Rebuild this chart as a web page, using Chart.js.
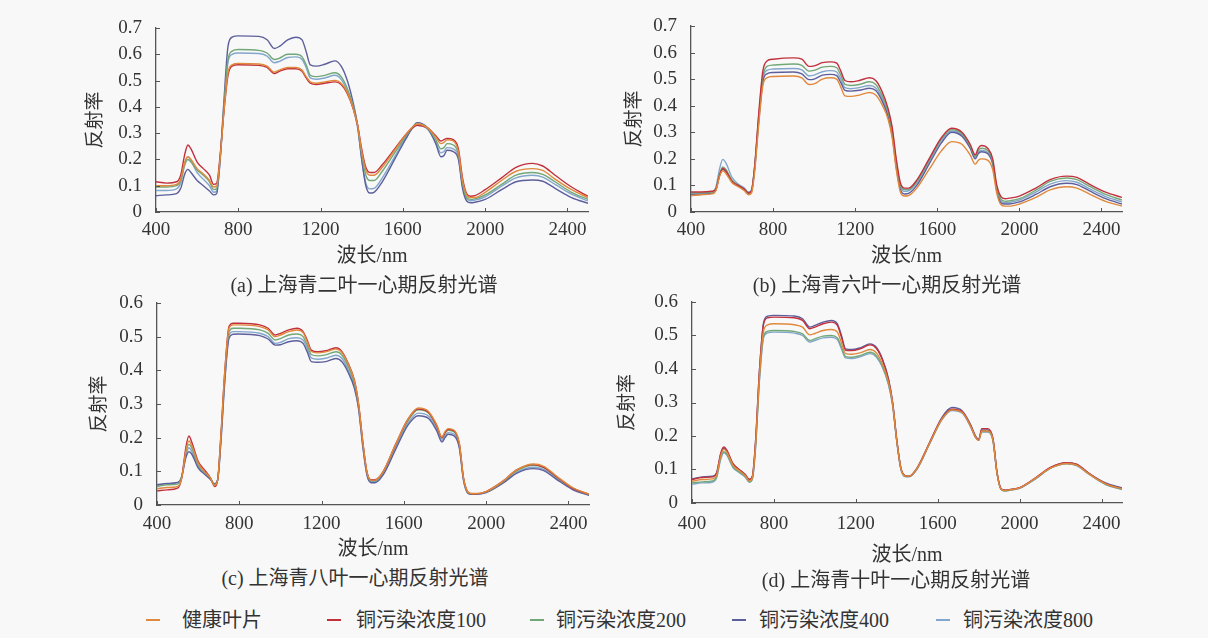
<!DOCTYPE html>
<html><head><meta charset="utf-8">
<script src="https://cdn.jsdelivr.net/npm/chart.js@4.4.1/dist/chart.umd.min.js"></script>
<style>
html,body{margin:0;padding:0;background:#f8f8f8;}
body{width:1208px;height:638px;position:relative;overflow:hidden;font-family:"Liberation Serif","Noto Sans CJK SC",serif;color:#333;}
canvas{position:absolute;}
.cap{position:absolute;font-size:20px;line-height:24px;height:24px;white-space:nowrap;transform:translateX(-50%);}
#legend{position:absolute;left:0;top:608px;width:1208px;height:24px;}
.li{position:absolute;top:0;height:24px;line-height:24px;font-size:20px;white-space:nowrap;}
.mk{position:absolute;top:11px;width:14px;height:2px;}
</style></head><body>
<canvas id="ca" width="568" height="269" style="left:80px;top:0px"></canvas>
<canvas id="cb" width="534" height="269" style="left:620px;top:0px"></canvas>
<canvas id="cc" width="549" height="282" style="left:80px;top:280px"></canvas>
<canvas id="cd" width="568" height="288" style="left:612px;top:280px"></canvas>
<div id="captions"></div>
<div id="legend"></div>
<script>
// ---------- data ----------
const WAVELENGTH = [400,450,500,520,540,555,570,600,630,660,680,695,710,730,750,770,800,900,940,975,1000,1040,1080,1110,1130,1150,1180,1220,1270,1300,1330,1360,1380,1400,1420,1440,1460,1500,1560,1620,1670,1720,1760,1785,1800,1815,1845,1870,1890,1910,1930,1950,2000,2080,2150,2230,2280,2340,2420,2500];
const X_TICKS = [400,800,1200,1600,2000,2400];
const Y_TICKS_AB = [0,0.1,0.2,0.3,0.4,0.5,0.6,0.7];
const Y_TICKS_CD = [0,0.1,0.2,0.3,0.4,0.5,0.6];
const SERIES_NAMES = ['健康叶片','铜污染浓度100','铜污染浓度200','铜污染浓度400','铜污染浓度800'];
const CAPTIONS = ['(a) 上海青二叶一心期反射光谱','(b) 上海青六叶一心期反射光谱','(c) 上海青八叶一心期反射光谱','(d) 上海青十叶一心期反射光谱'];

// (a) 二叶一心期
const A_HEALTHY = [0.10,0.10,0.105,0.125,0.19,0.21,0.2,0.165,0.145,0.12,0.095,0.1,0.19,0.38,0.53,0.56,0.565,0.563,0.555,0.532,0.54,0.55,0.55,0.54,0.515,0.495,0.49,0.495,0.5,0.49,0.455,0.39,0.33,0.23,0.16,0.14,0.14,0.17,0.235,0.30,0.335,0.32,0.285,0.26,0.265,0.275,0.27,0.23,0.12,0.065,0.055,0.055,0.075,0.12,0.155,0.165,0.158,0.125,0.085,0.055];
const A_CU100 = [0.115,0.11,0.115,0.14,0.22,0.255,0.24,0.19,0.165,0.14,0.105,0.11,0.2,0.38,0.52,0.555,0.56,0.558,0.55,0.527,0.535,0.545,0.545,0.535,0.51,0.49,0.485,0.49,0.495,0.485,0.45,0.39,0.33,0.24,0.17,0.15,0.15,0.18,0.24,0.30,0.33,0.32,0.29,0.27,0.275,0.28,0.275,0.24,0.13,0.07,0.06,0.062,0.085,0.13,0.17,0.185,0.175,0.14,0.095,0.06];
const A_CU200 = [0.095,0.095,0.1,0.12,0.18,0.2,0.19,0.16,0.14,0.115,0.085,0.09,0.19,0.4,0.58,0.612,0.618,0.615,0.605,0.58,0.585,0.6,0.6,0.59,0.56,0.52,0.515,0.52,0.53,0.515,0.47,0.4,0.33,0.22,0.14,0.12,0.12,0.155,0.225,0.295,0.335,0.32,0.275,0.24,0.245,0.26,0.255,0.22,0.11,0.055,0.048,0.05,0.065,0.105,0.14,0.15,0.143,0.115,0.075,0.048];
const A_CU400 = [0.062,0.065,0.07,0.09,0.145,0.162,0.15,0.12,0.1,0.08,0.065,0.07,0.18,0.42,0.63,0.665,0.67,0.668,0.655,0.622,0.63,0.655,0.665,0.655,0.61,0.56,0.555,0.562,0.575,0.555,0.5,0.41,0.33,0.2,0.1,0.072,0.075,0.115,0.2,0.285,0.34,0.32,0.26,0.21,0.215,0.235,0.23,0.2,0.09,0.042,0.035,0.037,0.048,0.085,0.115,0.122,0.117,0.09,0.055,0.033];
const A_CU800 = [0.082,0.082,0.088,0.11,0.185,0.21,0.195,0.15,0.125,0.1,0.075,0.08,0.18,0.39,0.57,0.6,0.605,0.603,0.593,0.568,0.573,0.588,0.59,0.58,0.55,0.51,0.505,0.51,0.52,0.505,0.46,0.39,0.32,0.2,0.11,0.088,0.09,0.13,0.21,0.29,0.33,0.315,0.265,0.225,0.23,0.245,0.24,0.21,0.1,0.05,0.043,0.045,0.058,0.098,0.13,0.14,0.133,0.105,0.068,0.042];

// (b) 六叶一心期
const B_HEALTHY = [0.062,0.065,0.068,0.078,0.135,0.155,0.145,0.11,0.095,0.08,0.065,0.072,0.15,0.33,0.475,0.505,0.51,0.512,0.505,0.48,0.482,0.5,0.505,0.5,0.47,0.437,0.435,0.44,0.45,0.44,0.405,0.35,0.28,0.16,0.075,0.06,0.062,0.09,0.16,0.23,0.265,0.255,0.215,0.18,0.195,0.2,0.195,0.16,0.07,0.028,0.022,0.022,0.03,0.055,0.083,0.095,0.09,0.068,0.04,0.022];
const B_CU100 = [0.075,0.075,0.078,0.085,0.14,0.165,0.155,0.115,0.1,0.085,0.072,0.08,0.17,0.37,0.53,0.568,0.575,0.58,0.575,0.548,0.55,0.562,0.565,0.56,0.53,0.495,0.49,0.495,0.505,0.495,0.455,0.39,0.32,0.2,0.11,0.09,0.09,0.12,0.2,0.28,0.315,0.3,0.255,0.215,0.24,0.25,0.24,0.2,0.1,0.058,0.05,0.052,0.06,0.09,0.122,0.135,0.13,0.105,0.075,0.055];
const B_CU200 = [0.072,0.072,0.075,0.085,0.145,0.17,0.16,0.12,0.1,0.085,0.072,0.08,0.17,0.36,0.51,0.548,0.553,0.557,0.552,0.53,0.533,0.545,0.548,0.543,0.515,0.48,0.476,0.48,0.49,0.48,0.44,0.38,0.31,0.19,0.1,0.085,0.085,0.115,0.195,0.275,0.31,0.295,0.25,0.21,0.232,0.24,0.232,0.19,0.09,0.048,0.04,0.042,0.05,0.082,0.115,0.128,0.122,0.097,0.066,0.045];
const B_CU400 = [0.065,0.067,0.07,0.08,0.14,0.16,0.152,0.115,0.098,0.085,0.07,0.078,0.16,0.34,0.49,0.52,0.525,0.527,0.52,0.498,0.5,0.515,0.518,0.513,0.487,0.458,0.455,0.458,0.466,0.457,0.42,0.36,0.29,0.17,0.085,0.068,0.07,0.1,0.18,0.26,0.3,0.285,0.24,0.2,0.22,0.227,0.22,0.18,0.08,0.035,0.03,0.03,0.038,0.066,0.095,0.108,0.103,0.08,0.05,0.03];
const B_CU800 = [0.07,0.07,0.075,0.09,0.165,0.198,0.185,0.13,0.105,0.09,0.075,0.085,0.17,0.35,0.5,0.533,0.538,0.54,0.535,0.512,0.515,0.528,0.532,0.527,0.5,0.468,0.464,0.468,0.476,0.467,0.43,0.37,0.3,0.18,0.095,0.078,0.08,0.11,0.19,0.27,0.305,0.29,0.245,0.205,0.225,0.232,0.225,0.185,0.085,0.042,0.035,0.036,0.045,0.075,0.105,0.118,0.112,0.088,0.058,0.038];

// (c) 八叶一心期
const C_HEALTHY = [0.048,0.052,0.055,0.08,0.16,0.19,0.175,0.125,0.1,0.08,0.058,0.075,0.2,0.4,0.525,0.535,0.535,0.53,0.52,0.5,0.505,0.515,0.52,0.512,0.485,0.456,0.452,0.455,0.463,0.452,0.418,0.368,0.3,0.19,0.1,0.074,0.074,0.1,0.18,0.255,0.288,0.278,0.238,0.202,0.218,0.227,0.222,0.182,0.08,0.04,0.034,0.034,0.04,0.07,0.105,0.122,0.115,0.087,0.052,0.032];
const C_CU100 = [0.042,0.045,0.05,0.08,0.17,0.205,0.185,0.13,0.105,0.08,0.055,0.075,0.2,0.4,0.53,0.54,0.54,0.535,0.525,0.505,0.51,0.52,0.525,0.515,0.49,0.46,0.455,0.458,0.467,0.455,0.42,0.37,0.3,0.19,0.1,0.075,0.075,0.1,0.18,0.255,0.285,0.275,0.235,0.2,0.215,0.225,0.22,0.18,0.08,0.04,0.033,0.033,0.04,0.07,0.105,0.12,0.112,0.085,0.05,0.032];
const C_CU200 = [0.055,0.06,0.062,0.085,0.155,0.18,0.168,0.12,0.098,0.08,0.06,0.075,0.19,0.39,0.515,0.525,0.525,0.52,0.51,0.49,0.494,0.505,0.508,0.5,0.475,0.447,0.443,0.446,0.455,0.445,0.41,0.36,0.295,0.185,0.098,0.072,0.072,0.098,0.178,0.25,0.283,0.273,0.233,0.198,0.213,0.222,0.217,0.178,0.078,0.038,0.033,0.033,0.039,0.068,0.102,0.118,0.111,0.084,0.05,0.031];
const C_CU400 = [0.06,0.064,0.067,0.083,0.14,0.158,0.15,0.11,0.092,0.076,0.063,0.075,0.18,0.37,0.495,0.507,0.508,0.503,0.493,0.475,0.476,0.485,0.488,0.48,0.455,0.426,0.424,0.426,0.435,0.425,0.393,0.346,0.285,0.175,0.09,0.066,0.066,0.09,0.165,0.237,0.265,0.257,0.22,0.187,0.2,0.21,0.205,0.168,0.073,0.036,0.032,0.032,0.037,0.064,0.095,0.108,0.102,0.077,0.046,0.029];
const C_CU800 = [0.058,0.063,0.066,0.085,0.145,0.17,0.158,0.115,0.095,0.078,0.062,0.075,0.19,0.38,0.505,0.515,0.515,0.51,0.5,0.48,0.483,0.494,0.497,0.49,0.465,0.437,0.433,0.436,0.445,0.435,0.4,0.352,0.29,0.18,0.095,0.07,0.07,0.095,0.172,0.243,0.273,0.264,0.226,0.192,0.207,0.215,0.21,0.172,0.075,0.037,0.032,0.032,0.038,0.066,0.098,0.112,0.106,0.08,0.048,0.03];

// (d) 十叶一心期
const D_HEALTHY = [0.065,0.07,0.072,0.082,0.14,0.16,0.152,0.113,0.097,0.082,0.066,0.076,0.17,0.385,0.515,0.532,0.535,0.532,0.525,0.502,0.506,0.515,0.518,0.51,0.478,0.446,0.444,0.448,0.458,0.448,0.415,0.36,0.295,0.186,0.103,0.081,0.08,0.104,0.178,0.25,0.278,0.27,0.23,0.196,0.187,0.215,0.215,0.188,0.088,0.041,0.037,0.039,0.045,0.075,0.104,0.118,0.113,0.086,0.057,0.042];
const D_CU100 = [0.07,0.076,0.078,0.088,0.148,0.167,0.158,0.118,0.1,0.085,0.07,0.08,0.18,0.4,0.535,0.553,0.555,0.553,0.545,0.52,0.525,0.535,0.54,0.53,0.495,0.456,0.455,0.46,0.472,0.462,0.427,0.367,0.298,0.188,0.104,0.082,0.08,0.105,0.18,0.252,0.28,0.272,0.232,0.197,0.188,0.222,0.222,0.192,0.09,0.042,0.038,0.04,0.046,0.076,0.106,0.12,0.115,0.088,0.058,0.043];
const D_CU200 = [0.06,0.063,0.066,0.078,0.135,0.153,0.146,0.108,0.093,0.079,0.063,0.073,0.165,0.375,0.5,0.513,0.515,0.512,0.505,0.485,0.49,0.498,0.5,0.493,0.465,0.437,0.435,0.44,0.45,0.44,0.408,0.355,0.292,0.185,0.102,0.08,0.079,0.103,0.177,0.25,0.278,0.27,0.23,0.196,0.188,0.213,0.213,0.186,0.087,0.04,0.036,0.038,0.045,0.074,0.104,0.118,0.112,0.086,0.056,0.041];
const D_CU400 = [0.072,0.078,0.08,0.09,0.145,0.163,0.155,0.115,0.1,0.085,0.07,0.08,0.18,0.4,0.54,0.558,0.56,0.558,0.55,0.525,0.53,0.54,0.545,0.535,0.5,0.46,0.458,0.463,0.475,0.465,0.43,0.37,0.3,0.19,0.105,0.082,0.08,0.105,0.18,0.255,0.285,0.275,0.235,0.2,0.19,0.218,0.218,0.19,0.09,0.042,0.038,0.04,0.045,0.075,0.105,0.12,0.115,0.088,0.06,0.045];
const D_CU800 = [0.056,0.06,0.062,0.075,0.13,0.15,0.143,0.106,0.091,0.077,0.062,0.072,0.16,0.37,0.495,0.508,0.51,0.507,0.5,0.48,0.485,0.493,0.495,0.488,0.46,0.433,0.431,0.436,0.446,0.436,0.405,0.352,0.29,0.184,0.101,0.079,0.078,0.102,0.176,0.248,0.276,0.268,0.228,0.195,0.187,0.212,0.212,0.185,0.086,0.04,0.036,0.038,0.044,0.073,0.103,0.117,0.111,0.085,0.055,0.04];

// ---------- style ----------
const COLORS = ['#e0893c','#c2303c','#72a877','#5d5f9c','#82a6cc'];
const FONT = '"Liberation Serif","Noto Sans CJK SC",serif';
const TXT = '#333333';
const AXIS = '#555555';
Chart.defaults.font.family = FONT;
Chart.defaults.color = TXT;

const inwardTicks = {
  id: 'inwardTicks',
  afterDraw(chart) {
    const ctx = chart.ctx, a = chart.chartArea;
    const xs = chart.scales.x, ys = chart.scales.y;
    ctx.save();
    ctx.strokeStyle = AXIS; ctx.lineWidth = 1;
    xs.ticks.forEach(t => { const p = Math.round(xs.getPixelForValue(t.value)) + 0.5; ctx.beginPath(); ctx.moveTo(p, a.bottom); ctx.lineTo(p, a.bottom - 4); ctx.stroke(); });
    ys.ticks.forEach(t => { const p = Math.round(ys.getPixelForValue(t.value)) + 0.5; ctx.beginPath(); ctx.moveTo(a.left, p); ctx.lineTo(a.left + 4, p); ctx.stroke(); });
    ctx.restore();
  }
};

function makeChart(id, series, yTicks, geo) {
  new Chart(document.getElementById(id), {
    type: 'line',
    data: {
      datasets: SERIES_NAMES.map((name, i) => ({
        label: name,
        data: WAVELENGTH.map((w, j) => ({x: w, y: series[i][j]})),
        borderColor: COLORS[i], borderWidth: 1.4, pointRadius: 0,
        cubicInterpolationMode: 'monotone', fill: false
      }))
    },
    options: {
      responsive: false, animation: false, events: [],
      layout: {padding: {top: geo.pt, right: geo.pr, left: 0, bottom: 0}},
      plugins: {legend: {display: false}, tooltip: {enabled: false}, title: {display: false}},
      scales: {
        x: {
          type: 'linear', min: 400, max: 2500,
          afterBuildTicks(s) { s.ticks = X_TICKS.map(v => ({value: v})); },
          afterFit(s) { s.height = geo.xh; },
          grid: {display: false},
          border: {display: true, color: AXIS, width: 1.3},
          ticks: {padding: geo.xtp, font: {size: 19}, color: TXT, maxRotation: 0, autoSkip: false, callback: v => String(v)},
          title: {display: true, text: '波长/nm', font: {size: 20}, color: TXT, padding: 0}
        },
        y: {
          min: 0, max: yTicks[yTicks.length - 1],
          afterBuildTicks(s) { s.ticks = yTicks.map(v => ({value: v})); },
          afterFit(s) { s.width = geo.yw; },
          grid: {display: false},
          border: {display: true, color: AXIS, width: 1.3},
          ticks: {padding: 6, font: {size: 19}, color: TXT, autoSkip: false, callback: v => v === 0 ? '0' : v.toFixed(1)},
          title: {display: true, text: '反射率', font: {size: 19}, color: TXT, padding: {top: geo.ytp, bottom: 0}}
        }
      }
    },
    plugins: [inwardTicks]
  });
}

makeChart('ca', [A_HEALTHY, A_CU100, A_CU200, A_CU400, A_CU800], Y_TICKS_AB, {pt: 28, pr: 60, yw: 76, xh: 57, xtp: -1, ytp: 5});
makeChart('cb', [B_HEALTHY, B_CU100, B_CU200, B_CU400, B_CU800], Y_TICKS_AB, {pt: 26, pr: 32, yw: 71, xh: 57, xtp: -1, ytp: 4});
makeChart('cc', [C_HEALTHY, C_CU100, C_CU200, C_CU400, C_CU800], Y_TICKS_CD, {pt: 23, pr: 40, yw: 77, xh: 57, xtp: 0, ytp: 9});
makeChart('cd', [D_HEALTHY, D_CU100, D_CU200, D_CU400, D_CU800], Y_TICKS_CD, {pt: 22, pr: 58, yw: 80, xh: 65, xtp: 2, ytp: 5});

// ---------- captions ----------
const CAPTION_POS = [[364, 273], [887, 273], [355, 566], [896, 568]];
const capBox = document.getElementById('captions');
CAPTIONS.forEach((c, i) => {
  const d = document.createElement('div');
  d.className = 'cap'; d.style.left = CAPTION_POS[i][0] + 'px'; d.style.top = CAPTION_POS[i][1] + 'px';
  d.textContent = c; capBox.appendChild(d);
});

// ---------- shared legend ----------
const LEGEND_POS = [[146, 182], [327, 356], [530, 556], [732, 759], [936, 963]];
const lg = document.getElementById('legend');
SERIES_NAMES.forEach((name, i) => {
  const mk = document.createElement('div');
  mk.className = 'mk'; mk.style.left = LEGEND_POS[i][0] + 'px'; mk.style.background = COLORS[i];
  const tx = document.createElement('div');
  tx.className = 'li'; tx.style.left = LEGEND_POS[i][1] + 'px'; tx.textContent = name;
  lg.appendChild(mk); lg.appendChild(tx);
});
</script>
</body></html>
